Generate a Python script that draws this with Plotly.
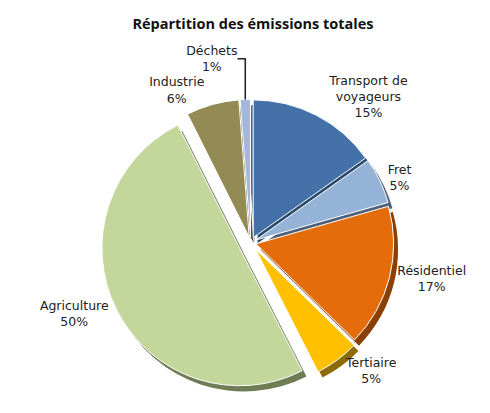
import plotly.graph_objects as go

labels = ["Transport de<br>voyageurs", "Fret", "Résidentiel", "Tertiaire", "Agriculture", "Industrie", "Déchets"]
values = [15.2, 5.4, 16.7, 5.2, 50.1, 6.2, 1.2]
pct_text = ["15%", "5%", "17%", "5%", "50%", "6%", "1%"]
colors = ["#4472A8", "#95B3D7", "#E46C0A", "#FFC000", "#C4D79B", "#948A54", "#A3B7DD"]
shadow_colors = ["#2A4A70", "#4E6079", "#8A3F05", "#8E6B00", "#6F7D55", "#575030", "#5A6B85"]
pulls = [0.04, 0.04, 0.04, 0.06, 0.09, 0.04, 0.04]

dom_x = [0.1, 0.92]
dom_y = [0.017, 0.93]
dx, dy = 0.012, 0.017

fig = go.Figure()
fig.add_trace(go.Pie(
    labels=labels, values=values, sort=False, direction="clockwise", rotation=0,
    pull=pulls, marker=dict(colors=shadow_colors, line=dict(width=0)),
    textinfo="none", hoverinfo="skip", showlegend=False,
    domain=dict(x=[dom_x[0] + dx, dom_x[1] + dx], y=[dom_y[0] - dy, dom_y[1] - dy]),
))
fig.add_trace(go.Pie(
    labels=labels, values=values, sort=False, direction="clockwise", rotation=0,
    pull=pulls, marker=dict(colors=colors, line=dict(color="white", width=1)),
    text=pct_text, texttemplate="%{label}<br>%{text}", textposition="outside",
    textfont=dict(family="DejaVu Sans, sans-serif", size=12.5, color="#222222"),
    showlegend=False,
    domain=dict(x=dom_x, y=dom_y),
))
fig.update_layout(
    width=490, height=413,
    margin=dict(l=0, r=0, t=0, b=0),
    paper_bgcolor="white",
    title=dict(text="<b>Répartition des émissions totales</b>", x=0.5, xanchor="center",
               y=0.962, yanchor="middle",
               font=dict(family="Open Sans, sans-serif", size=14.5, color="#111111")),
)
fig.write_html("out.html")
